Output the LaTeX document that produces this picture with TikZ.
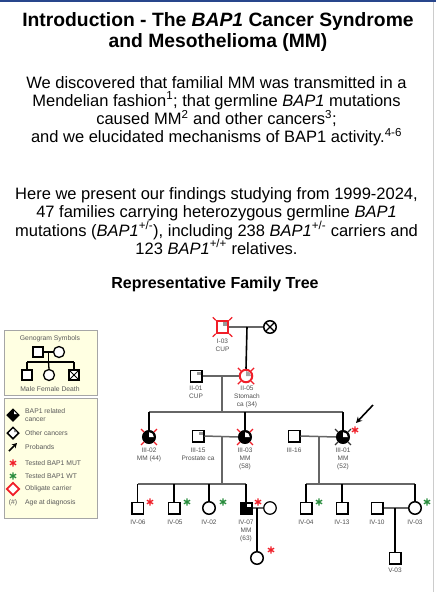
\documentclass[tikz,border=0pt]{standalone}
\usepackage{fontspec}
\setmainfont{Liberation Sans}
\usetikzlibrary{arrows.meta,shapes.geometric,calc}
\definecolor{mutred}{RGB}{240,30,40}
\definecolor{wtgreen}{RGB}{40,140,60}
\definecolor{legfill}{RGB}{255,255,226}
\definecolor{lblgray}{RGB}{80,80,80}
\definecolor{topblue}{RGB}{40,70,140}
\newcommand\deadmark[2]{\draw[#2, line width=1.1pt] (#1.north east) -- ++(3,-3) (#1.north west) -- ++(-3,-3) (#1.south east) -- ++(3,3) (#1.south west) -- ++(-3,3);}
\newcommand\sqquad[2]{\fill[#2] ($(#1.center)+(0.6,-0.6)$) rectangle ($(#1.north east)+(-2,2)$);}
\newcommand\cirquad[3]{\fill[#2] (#1.center) -- ++(#3,0) arc[start angle=0,end angle=-90,radius=#3] -- cycle;}
\newcommand\titlefont{\fontsize{19.3}{21}\selectfont\bfseries}
\newcommand\bodyfont{\fontsize{16.5}{18}\selectfont}
\tikzset{
  male/.style={draw, rectangle, minimum size=11.5pt, inner sep=0pt, line width=1.5pt, fill=white},
  female/.style={draw, circle, minimum size=12.5pt, inner sep=0pt, line width=1.5pt, fill=white},
  lmale/.style={draw, rectangle, minimum size=10pt, inner sep=0pt, line width=1.3pt, fill=white},
  lfemale/.style={draw, circle, minimum size=11pt, inner sep=0pt, line width=1.3pt, fill=white},
  ldiam/.style={draw, diamond, minimum size=12pt, inner sep=0pt, line width=1.5pt},
  lbl/.style={font=\fontsize{6.5}{8}\selectfont, text=lblgray, align=center, inner sep=0pt, anchor=north},
  leglbl/.style={font=\fontsize{6.8}{8.2}\selectfont, text=black!65, align=left, inner sep=0pt},
  hline/.style={draw=black!60, line width=1.5pt},
  vline/.style={draw=black, line width=1.6pt},
  legbox/.style={draw=black!35, line width=0.8pt, fill=legfill},
  body/.style={anchor=base, font=\bodyfont, inner sep=0pt},
  astk/.pic={\draw[line width=1.3pt] (0,-3.6) -- (0,3.6) (-3.1,-1.8) -- (3.1,1.8) (-3.1,1.8) -- (3.1,-1.8);}
}
\begin{document}
\begin{tikzpicture}[x=1pt,y=-1pt]
\useasboundingbox (0,0) rectangle (436,592);
\fill[white] (0,0) rectangle (436,592);
\draw[topblue, line width=2pt] (0,1) -- (436,1);
\draw[black!20, line width=0.8pt] (433,2) -- (433,592);

% ---------- texts ----------
\node[anchor=base, font=\titlefont, inner sep=0pt] (t1) at (218,26) {Introduction - The \textit{BAP1} Cancer Syndrome};
\node[anchor=base, font=\titlefont, inner sep=0pt] (t2) at (218,47) {and Mesothelioma (MM)};
\node[body] (p1a) at (216.5,88) {We discovered that familial MM was transmitted in a};
\node[body] (p1b) at (216.5,106) {Mendelian fashion\textsuperscript{1}; that germline \textit{BAP1} mutations};
\node[body] (p1c) at (216.5,124.5) {caused MM\textsuperscript{2} and other cancers\textsuperscript{3};};
\node[body] (p1d) at (216.5,142.5) {and we elucidated mechanisms of BAP1 activity.\textsuperscript{4-6}};
\node[body] (p2a) at (216.5,199) {Here we present our findings studying from 1999-2024,};
\node[body] (p2b) at (216.5,217.5) {47 families carrying heterozygous germline \textit{BAP1}};
\node[body] (p2c) at (216.5,236) {mutations (\textit{BAP1}\textsuperscript{+/-}), including 238 \textit{BAP1}\textsuperscript{+/-} carriers and};
\node[body] (p2d) at (216.5,254) {123 \textit{BAP1}\textsuperscript{+/+} relatives.};
\node[anchor=base, font=\fontsize{16}{18}\selectfont\bfseries, inner sep=0pt] (rft) at (215,288) {Representative Family Tree};

% ---------- legend ----------
\draw[legbox] (4,330) rectangle (97,395);
\draw[legbox] (4,398) rectangle (97,518);
\node[leglbl, align=center] (gsym) at (50,339) {Genogram Symbols};
\node[lmale] (gM) at (38,352) {};
\node[lfemale] (gF) at (59,352) {};
\draw[line width=1.3pt] (gM.east) -- (gF.west);
\coordinate (gm) at (48.5,352);
\coordinate (gs) at (48.5,362);
\coordinate (gsl) at (27,362);
\coordinate (gsr) at (74,362);
\draw[line width=1.3pt] (gm) -- (gs);
\draw[line width=1.3pt] (gsl) -- (gsr);
\node[lmale] (gMale) at (27,375) {};
\node[lfemale] (gFem) at (49,375) {};
\node[lmale] (gDeath) at (74,375) {};
\draw[line width=1pt] (gDeath.north west) -- (gDeath.south east) (gDeath.north east) -- (gDeath.south west);
\draw[line width=1.3pt] (gsl) -- (gMale.north);
\draw[line width=1.3pt] (gs) -- (gFem.north);
\draw[line width=1.3pt] (gsr) -- (gDeath.north);
\node[leglbl, align=center] (gtxt) at (50,389) {Male Female Death};

\node[ldiam, fill=black] (dB) at (13,415) {};
\fill[white] ($(dB.center)+(1,-1)$) -- ($(dB.center)+(1,-4)$) -- ($(dB.center)+(4,-1)$) -- cycle;
\node[leglbl, anchor=west] (tB) at (25,415) {BAP1 related\\cancer};
\node[ldiam, fill=white] (dO) at (13,433) {};
\fill[black!45] ($(dO.center)+(1,-1)$) -- ($(dO.center)+(1,-4)$) -- ($(dO.center)+(4,-1)$) -- cycle;
\node[leglbl, anchor=west] (tO) at (25,433) {Other cancers};
\coordinate (pa1) at (9,451);
\coordinate (pa2) at (17,443);
\draw[-{Stealth[length=5pt,width=5.5pt]}, line width=1.6pt] (pa1) -- (pa2);
\node[leglbl, anchor=west] (tP) at (25,447) {Probands};
\pic[mutred] at (13,463) {astk};
\node[leglbl, anchor=west] (tM) at (25,463) {Tested BAP1 MUT};
\pic[wtgreen] at (13,476) {astk};
\node[leglbl, anchor=west] (tW) at (25,476) {Tested BAP1 WT};
\node[ldiam, draw=mutred, line width=1.8pt, minimum size=13pt, fill=white] (dC) at (13,489) {};
\node[leglbl, anchor=west] (tC) at (25,489) {Obligate carrier};
\node[leglbl, align=center] (hash) at (13,503) {(\#)};
\node[leglbl, anchor=west] (tA) at (25,503) {Age at diagnosis};

% ---------- generation I ----------
\node[male, draw=mutred, line width=2pt] (I03) at (222.5,327) {};
\sqquad{I03}{black!40}
\deadmark{I03}{mutred}
\node[female] (IX) at (270,327) {};
\draw[line width=1.3pt] ($(IX.center)+(-4.2,-4.2)$) -- ($(IX.center)+(4.2,4.2)$) ($(IX.center)+(-4.2,4.2)$) -- ($(IX.center)+(4.2,-4.2)$);
\node[lbl] (I03l) at (222.5,338.5) {I-03\\CUP};
\coordinate (m1) at (247,327);

% ---------- generation II ----------
\node[male] (II01) at (196,376) {};
\sqquad{II01}{black!40}
\node[female, draw=mutred, line width=2pt] (II05) at (246,376) {};
\cirquad{II05}{black!35}{5}
\deadmark{II05}{mutred}
\node[lbl] (II01l) at (196,385.5) {II-01\\CUP};
\node[lbl] (II05l) at (247,385.5) {II-05\\Stomach\\ca (34)};
\coordinate (m2) at (222,376);
\coordinate (s3) at (222,412);
\coordinate (s3l) at (149,412);
\coordinate (s3m) at (245,412);
\coordinate (s3r) at (343,412);

% ---------- generation III ----------
\node[female, fill=black] (III02) at (149,437) {};
\cirquad{III02}{white}{4.8}
\deadmark{III02}{mutred}
\node[male] (III15) at (198,436) {};
\sqquad{III15}{black!40}
\node[female, fill=black] (III03) at (245,437) {};
\cirquad{III03}{white}{4.8}
\deadmark{III03}{mutred}
\node[male] (III16) at (294,436) {};
\node[female, fill=black] (III01) at (343,437) {};
\cirquad{III01}{white}{4.8}
\deadmark{III01}{black!80}
\pic[mutred] at (355,430) {astk};
\coordinate (pr1) at (373,405);
\coordinate (pr2) at (356,423);
\draw[-{Stealth[length=6pt,width=6pt]}, line width=1.6pt] (pr1) -- (pr2);
\node[lbl] (III02l) at (149,447.5) {III-02\\MM (44)};
\node[lbl] (III15l) at (198,447.5) {III-15\\Prostate ca};
\node[lbl] (III03l) at (245,447.5) {III-03\\MM\\(58)};
\node[lbl] (III16l) at (294,447.5) {III-16};
\node[lbl] (III01l) at (343,447.5) {III-01\\MM\\(52)};
\coordinate (m3) at (222,436);
\coordinate (m4) at (319,436);
\coordinate (s4a) at (222,484);
\coordinate (s4b) at (319,484);

% ---------- generation IV ----------
\node[male] (IV06) at (137.5,508) {};
\node[male] (IV05) at (174,508) {};
\node[female] (IV02) at (209,508) {};
\node[male, fill=black] (IV07) at (246,508) {};
\sqquad{IV07}{white}
\node[female, line width=1.2pt] (IVs) at (270,508) {};
\node[male] (IV04) at (306,508) {};
\node[male] (IV13) at (342,508) {};
\node[male] (IV10) at (377,508) {};
\node[female] (IV03) at (415,508) {};
\pic[mutred] at (150,502) {astk};
\pic[wtgreen] at (187,502) {astk};
\pic[wtgreen] at (223,502) {astk};
\pic[mutred] at (258,502) {astk};
\pic[wtgreen] at (319,502) {astk};
\pic[wtgreen] at (427,502) {astk};
\node[lbl] (IV06l) at (138,519.5) {IV-06};
\node[lbl] (IV05l) at (175,519.5) {IV-05};
\node[lbl] (IV02l) at (209,519.5) {IV-02};
\node[lbl] (IV07l) at (246,519.5) {IV-07\\MM\\(63)};
\node[lbl] (IV04l) at (306,519.5) {IV-04};
\node[lbl] (IV13l) at (342,519.5) {IV-13};
\node[lbl] (IV10l) at (377,519.5) {IV-10};
\node[lbl] (IV03l) at (415,519.5) {IV-03};
\coordinate (s4al) at (137.5,484);
\coordinate (s4ar) at (246,484);
\coordinate (s4bl) at (306,484);
\coordinate (s4br) at (415,484);
\coordinate (s4b2) at (342,484);
\coordinate (s4a2) at (174,484);
\coordinate (s4a3) at (209,484);
\coordinate (m5) at (257,508);
\coordinate (m6) at (395,508);

% ---------- generation V ----------
\node[female] (Vc) at (257,558) {};
\pic[mutred] at (271,550) {astk};
\node[male] (V03) at (395,558) {};
\node[lbl] (V03l) at (395,567.5) {V-03};

% ---------- connectors ----------
\draw[hline] (I03.east) -- (IX.west);
\draw[vline] (m1) -- (II05.north);
\draw[hline] (II01.east) -- (II05.west);
\draw[hline] (m2) -- (s3);
\draw[hline] (s3l) -- (s3r);
\draw[vline] (s3l) -- (III02.north);
\draw[vline] (s3m) -- (III03.north);
\draw[vline] (s3r) -- (III01.north);
\draw[hline] (III15.east) -- (III03.west);
\draw[hline] (III16.east) -- (III01.west);
\draw[hline] (m3) -- (s4a);
\draw[hline] (m4) -- (s4b);
\draw[hline] (s4al) -- (s4ar);
\draw[hline] (s4bl) -- (s4br);
\draw[vline] (s4al) -- (IV06.north);
\draw[vline] (s4a2) -- (IV05.north);
\draw[vline] (s4a3) -- (IV02.north);
\draw[vline] (s4ar) -- (IV07.north);
\draw[vline] (s4bl) -- (IV04.north);
\draw[vline] (s4b2) -- (IV13.north);
\draw[vline] (s4br) -- (IV03.north);
\draw[hline, line width=1.2pt] (IV07.east) -- (IVs.west);
\draw[hline] (IV10.east) -- (IV03.west);
\draw[vline] (m5) -- (Vc.north);
\draw[vline] (m6) -- (V03.north);
\end{tikzpicture}
\end{document}
